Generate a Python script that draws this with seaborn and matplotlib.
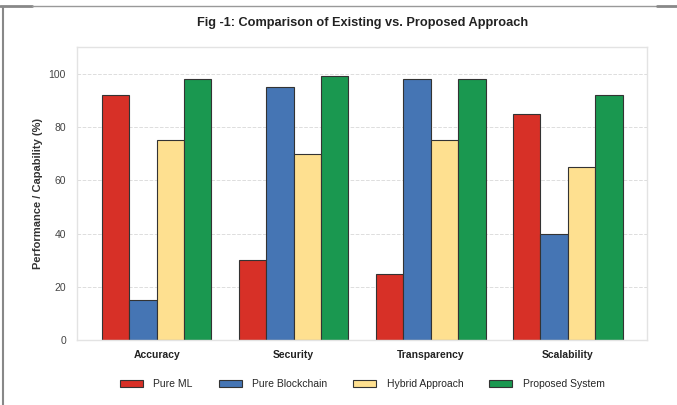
import matplotlib.pyplot as plt
import pandas as pd
import seaborn as sns
from matplotlib.lines import Line2D

# Data
categories = ["Accuracy", "Security", "Transparency", "Scalability"]
approaches = ["Pure ML", "Pure Blockchain", "Hybrid Approach", "Proposed System"]
pure_ml = [92, 30, 25, 85]
pure_blockchain = [15, 95, 98, 40]
hybrid = [75, 70, 75, 65]
proposed = [98, 99, 98, 92]
colors = ["#d73027", "#4575b4", "#fee090", "#1a9850"]

rows = []
for name, vals in zip(approaches, [pure_ml, pure_blockchain, hybrid, proposed]):
    for cat, v in zip(categories, vals):
        rows.append({"Metric": cat, "Approach": name, "Value": v})
df = pd.DataFrame(rows)

sns.set_theme(style="whitegrid")
plt.rcParams["font.family"] = ["Liberation Sans", "DejaVu Sans"]

fig = plt.figure(figsize=(6.77, 4.05), dpi=100)
ax = fig.add_axes([0.114, 0.16, 0.842, 0.724])

sns.barplot(data=df, x="Metric", y="Value", hue="Approach", order=categories,
            hue_order=approaches, palette=colors, width=0.8,
            edgecolor="#333333", linewidth=0.8, saturation=1, ax=ax)

ax.set_ylim(0, 110)
ax.set_xlim(-0.58, 3.58)
ax.set_yticks([0, 20, 40, 60, 80, 100])
ax.set_xlabel("")
ax.set_ylabel("Performance / Capability (%)", fontsize=8, fontweight="bold", color="#333333")
ax.tick_params(axis="y", labelsize=7.5, colors="#444444", pad=2)
ax.tick_params(axis="x", labelsize=7.5, pad=1)
for lbl in ax.get_xticklabels():
    lbl.set_fontweight("bold")
    lbl.set_color("#222222")
ax.grid(axis="y", linestyle="--", color="#dddddd", linewidth=0.7)
ax.grid(axis="x", visible=False)
for s in ax.spines.values():
    s.set_color("#e3e3e3")
    s.set_linewidth(1.0)

ax.set_title("Fig -1: Comparison of Existing vs. Proposed Approach",
             fontsize=9.2, fontweight="bold", color="#222222", pad=15)

handles, labels = ax.get_legend_handles_labels()
ax.legend(handles, labels, loc="upper center", bbox_to_anchor=(0.5, -0.1),
          ncol=4, frameon=False, fontsize=7.5, handlelength=2.2,
          handleheight=0.7, handletextpad=1.0, columnspacing=2.5)

# page frame lines
fig.add_artist(Line2D([0, 0.047], [0.985, 0.985], color="#888888", lw=2.0))
fig.add_artist(Line2D([0.047, 0.97], [0.985, 0.985], color="#999999", lw=1.0))
fig.add_artist(Line2D([0.97, 1], [0.985, 0.985], color="#888888", lw=2.0))
fig.add_artist(Line2D([0.005, 0.005], [0, 0.98], color="#888888", lw=1.5))

fig.savefig("out.png", dpi=100)
